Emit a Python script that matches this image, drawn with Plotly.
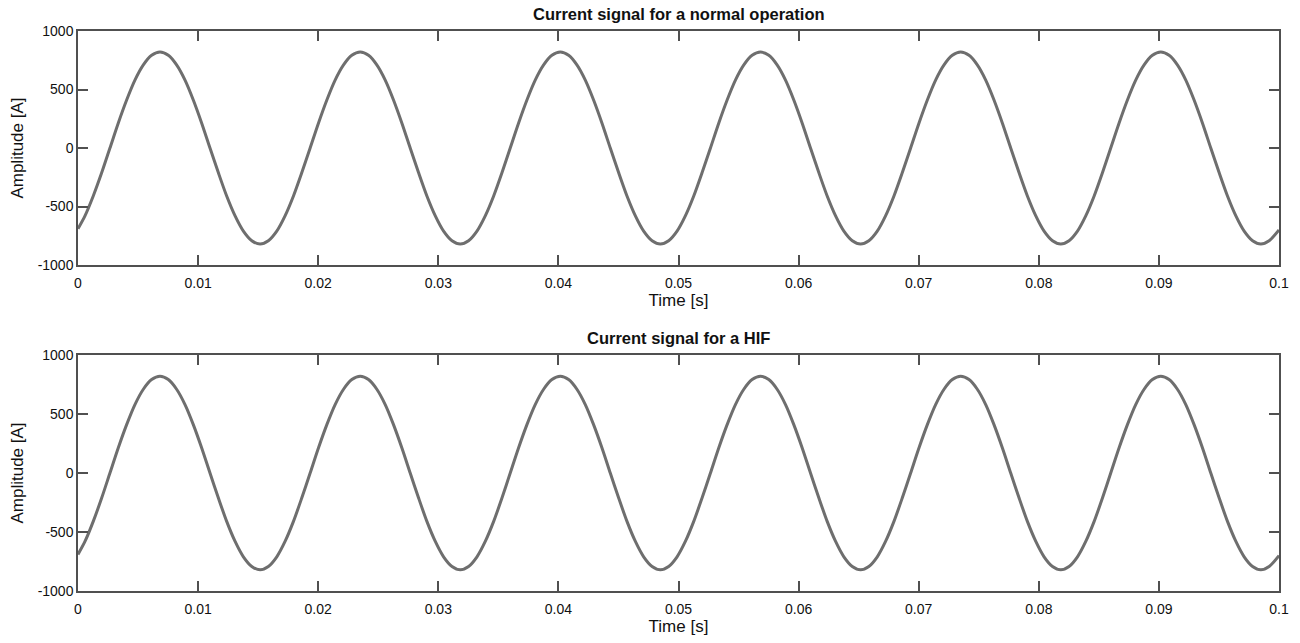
import plotly.graph_objects as go
from plotly.subplots import make_subplots

time_ms = [
    0.0, 0.58, 1.27, 1.97,
    2.66, 3.35, 4.05, 4.74, 5.44, 6.13, 6.83, 7.52, 8.21, 8.91, 9.60, 10.30,
    10.99, 11.69, 12.38, 13.08, 13.77, 14.47, 15.16, 15.85, 16.55, 17.24, 17.94, 18.63,
    19.33, 20.02, 20.72, 21.41, 22.11, 22.80, 23.50, 24.19, 24.88, 25.58, 26.27, 26.97,
    27.66, 28.36, 29.05, 29.75, 30.44, 31.14, 31.83, 32.52, 33.22, 33.91, 34.61, 35.30,
    35.99, 36.68, 37.38, 38.07, 38.77, 39.46, 40.16, 40.85, 41.54, 42.24, 42.93, 43.63,
    44.32, 45.02, 45.71, 46.41, 47.10, 47.80, 48.49, 49.18, 49.88, 50.57, 51.27, 51.96,
    52.66, 53.35, 54.05, 54.74, 55.44, 56.13, 56.83, 57.52, 58.21, 58.91, 59.60, 60.30,
    60.99, 61.69, 62.38, 63.08, 63.77, 64.47, 65.16, 65.85, 66.55, 67.24, 67.94, 68.63,
    69.33, 70.02, 70.72, 71.41, 72.11, 72.80, 73.50, 74.19, 74.88, 75.58, 76.27, 76.97,
    77.66, 78.36, 79.05, 79.75, 80.44, 81.14, 81.83, 82.52, 83.22, 83.91, 84.61, 85.30,
    85.99, 86.68, 87.38, 88.07, 88.77, 89.46, 90.16, 90.85, 91.54, 92.24, 92.93, 93.63,
    94.32, 95.02, 95.71, 96.41, 97.10, 97.80, 98.49, 99.18,
    100.0,
]

normal_amp = [
    -690, -580, -410, -212,
    0, 212, 410, 580, 710, 792, 820, 792, 710, 580, 410, 212,
    0, -212, -410, -580, -710, -792, -820, -792, -710, -580, -410, -212,
    0, 212, 410, 580, 710, 792, 820, 792, 710, 580, 410, 212,
    0, -212, -410, -580, -710, -792, -820, -792, -710, -580, -410, -212,
    0, 212, 410, 580, 710, 792, 820, 792, 710, 580, 410, 212,
    0, -212, -410, -580, -710, -792, -820, -792, -710, -580, -410, -212,
    0, 212, 410, 580, 710, 792, 820, 792, 710, 580, 410, 212,
    0, -212, -410, -580, -710, -792, -820, -792, -710, -580, -410, -212,
    0, 212, 410, 580, 710, 792, 820, 792, 710, 580, 410, 212,
    0, -212, -410, -580, -710, -792, -820, -792, -710, -580, -410, -212,
    0, 212, 410, 580, 710, 792, 820, 792, 710, 580, 410, 212,
    0, -212, -410, -580, -710, -792, -820, -792,
    -700,
]

hif_amp = [
    -690, -580, -410, -212,
    0, 212, 410, 580, 710, 792, 820, 792, 710, 580, 410, 212,
    0, -212, -410, -580, -710, -792, -820, -792, -710, -580, -410, -212,
    0, 212, 410, 580, 710, 792, 820, 792, 710, 580, 410, 212,
    0, -212, -410, -580, -710, -792, -820, -792, -710, -580, -410, -212,
    0, 212, 410, 580, 710, 792, 820, 792, 710, 580, 410, 212,
    0, -212, -410, -580, -710, -792, -820, -792, -710, -580, -410, -212,
    0, 212, 410, 580, 710, 792, 820, 792, 710, 580, 410, 212,
    0, -212, -410, -580, -710, -792, -820, -792, -710, -580, -410, -212,
    0, 212, 410, 580, 710, 792, 820, 792, 710, 580, 410, 212,
    0, -212, -410, -580, -710, -792, -820, -792, -710, -580, -410, -212,
    0, 212, 410, 580, 710, 792, 820, 792, 710, 580, 410, 212,
    0, -212, -410, -580, -710, -792, -820, -792,
    -700,
]

titles = ["Current signal for a normal operation", "Current signal for a HIF"]
x_ticks = [0, 0.01, 0.02, 0.03, 0.04, 0.05, 0.06, 0.07, 0.08, 0.09, 0.1]
x_tick_text = ["0", "0.01", "0.02", "0.03", "0.04", "0.05", "0.06", "0.07", "0.08", "0.09", "0.1"]
y_ticks = [-1000, -500, 0, 500, 1000]
y_tick_text = ["-1000", "-500", "0", "500", "1000"]

time_s = [t / 1000.0 for t in time_ms]

FONT = "Liberation Sans, Arial, sans-serif"
LINE_COLOR = "#6e6e6e"
AXIS_COLOR = "#505050"

fig = make_subplots(rows=2, cols=1)

for i, amp in enumerate([normal_amp, hif_amp]):
    fig.add_trace(go.Scatter(x=time_s, y=amp, mode="lines",
                             line=dict(color=LINE_COLOR, width=3, shape="spline", smoothing=0.8),
                             showlegend=False), row=i + 1, col=1)

axis_common = dict(showgrid=False, zeroline=False, showline=True, mirror="ticks",
                   linecolor=AXIS_COLOR, linewidth=1.5, ticks="inside", ticklen=10,
                   tickwidth=1.5, tickcolor=AXIS_COLOR,
                   tickfont=dict(family=FONT, size=14, color="#111"))

for r in (1, 2):
    fig.update_xaxes(range=[0, 0.1], tickvals=x_ticks, ticktext=x_tick_text,
                     ticklabelstandoff=4,
                     title=dict(text="Time [s]", font=dict(family=FONT, size=17, color="#111"), standoff=4),
                     row=r, col=1, **axis_common)
    fig.update_yaxes(range=[-1000, 1000], tickvals=y_ticks, ticktext=y_tick_text,
                     title=dict(text="Amplitude [A]", font=dict(family=FONT, size=17, color="#111"), standoff=10),
                     row=r, col=1, **axis_common)

fig.update_layout(
    width=1300, height=643,
    margin=dict(l=78, r=21, t=31, b=52),
    paper_bgcolor="white", plot_bgcolor="white",
    xaxis=dict(domain=[0, 1]), xaxis2=dict(domain=[0, 1]),
    yaxis=dict(domain=[0.582, 1.0]), yaxis2=dict(domain=[0.0, 0.4214]),
    font=dict(family=FONT),
)

fig.add_annotation(text="<b>" + titles[0] + "</b>", xref="paper", yref="paper", x=0.5, y=1.0,
                   yanchor="bottom", yshift=6, showarrow=False,
                   font=dict(family=FONT, size=16.5, color="#111"))
fig.add_annotation(text="<b>" + titles[1] + "</b>", xref="paper", yref="paper", x=0.5, y=0.4214,
                   yanchor="bottom", yshift=6, showarrow=False,
                   font=dict(family=FONT, size=16.5, color="#111"))

fig.write_html("out.html", config={"displayModeBar": False},
               post_script="document.body.style.margin='0';document.body.style.overflow='hidden';")
